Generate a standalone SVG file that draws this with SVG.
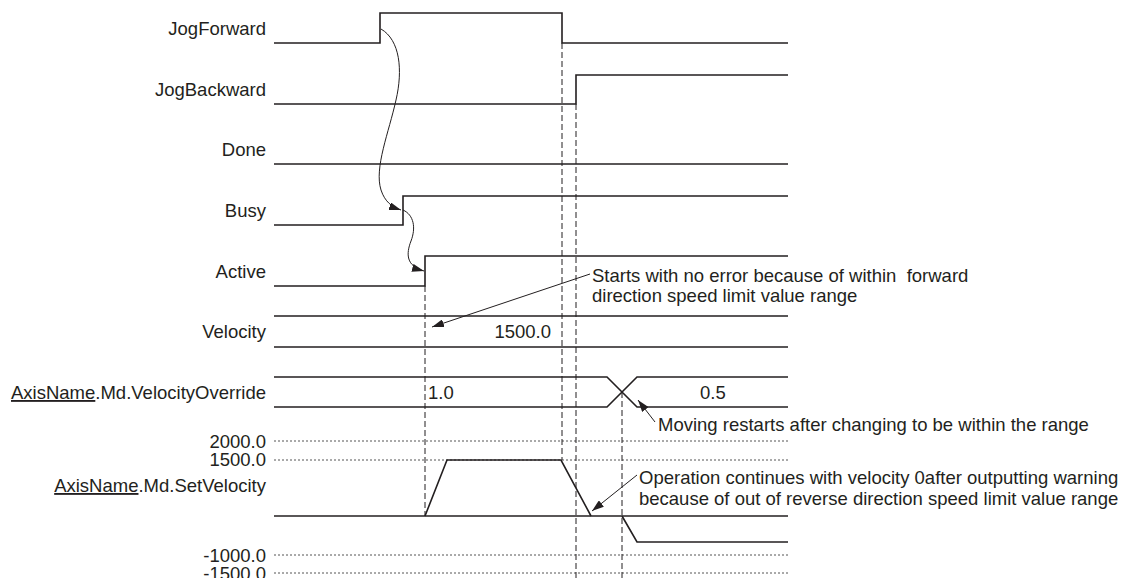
<svg xmlns="http://www.w3.org/2000/svg" width="1121" height="578" viewBox="0 0 1121 578">
<defs>
<style>
text{font-family:"Liberation Sans",Arial,sans-serif;font-size:18.5px;fill:#231f20}
.lbl{text-anchor:end}
.sig{fill:none;stroke:#231f20;stroke-width:1.6}
.dash{fill:none;stroke:#231f20;stroke-width:1;stroke-dasharray:6,3}
.dot{fill:none;stroke:#555;stroke-width:1;stroke-dasharray:2,2}
.con{fill:none;stroke:#231f20;stroke-width:1;marker-end:url(#ah)}
.u{text-decoration:underline}
</style>
<marker id="ah" viewBox="0 0 12 8" refX="12" refY="4" markerWidth="12" markerHeight="8" markerUnits="userSpaceOnUse" orient="auto">
<path d="M0,0 L12,4 L0,8 z" fill="#231f20"/>
</marker>
</defs>
<rect width="1121" height="578" fill="#fff"/>

<g id="jogforward">
<text class="lbl" x="266" y="35">JogForward</text>
<path class="sig" d="M274,43 H380 V13 H562 V43 H788"/>
</g>
<g id="jogbackward">
<text class="lbl" x="266" y="96">JogBackward</text>
<path class="sig" d="M274,104 H576 V75 H788"/>
</g>
<g id="done">
<text class="lbl" x="266" y="156">Done</text>
<path class="sig" d="M274,164 H788"/>
</g>
<g id="busy">
<text class="lbl" x="266" y="217">Busy</text>
<path class="sig" d="M274,225 H403 V196 H788"/>
</g>
<g id="active">
<text class="lbl" x="266" y="278">Active</text>
<path class="sig" d="M274,286 H425 V256 H788"/>
</g>
<g id="velocity">
<text class="lbl" x="266" y="338">Velocity</text>
<path class="sig" d="M274,316 H788 M274,347 H788"/>
<text x="551" y="338" text-anchor="end">1500.0</text>
</g>
<g id="velocityoverride">
<text class="lbl" x="266" y="399"><tspan class="u">AxisName</tspan>.Md.VelocityOverride</text>
<path class="sig" d="M274,377 H607 L637,407 H788 M274,407 H607 L637,377 H788"/>
<text x="428" y="399">1.0</text>
<text x="700" y="399">0.5</text>
</g>
<g id="setvelocity">
<text class="lbl" x="266" y="448">2000.0</text>
<text class="lbl" x="266" y="466">1500.0</text>
<text class="lbl" x="266" y="492"><tspan class="u">AxisName</tspan>.Md.SetVelocity</text>
<text class="lbl" x="266" y="562">-1000.0</text>
<text class="lbl" x="266" y="580">-1500.0</text>
<path class="dot" d="M274,441 H788 M274,460 H788 M274,555 H788 M274,573 H788"/>
<path class="sig" d="M274,516 H788"/>
<path class="sig" d="M425,516 L447,460 H561 L591,516 M622,516 L637,542 H788"/>
</g>
<g id="guides">
<path class="dash" d="M562,43 V460 M576,104 V578 M425,286 V516 M622,392 V578"/>
</g>
<g id="notes">
<text x="592" y="282" xml:space="preserve">Starts with no error because of within  forward</text>
<text x="592" y="302">direction speed limit value range</text>
<text x="658" y="431">Moving restarts after changing to be within the range</text>
<text x="639" y="484">Operation continues with velocity 0after outputting warning</text>
<text x="639" y="505">because of out of reverse direction speed limit value range</text>
</g>
<g id="connectors">
<path class="con" d="M381,29 C400,40 403,70 396,100 C389,132 374,168 381,190 C385,202 392,207 401,210"/>
<path class="con" d="M403,210 C414,215 416,228 411,241 C406,254 406,266 424,271"/>
<path class="con" d="M590,274 L432,327"/>
<path class="con" d="M655,422 L638,400"/>
<path class="con" d="M637,475 L592,511"/>
</g>
</svg>
